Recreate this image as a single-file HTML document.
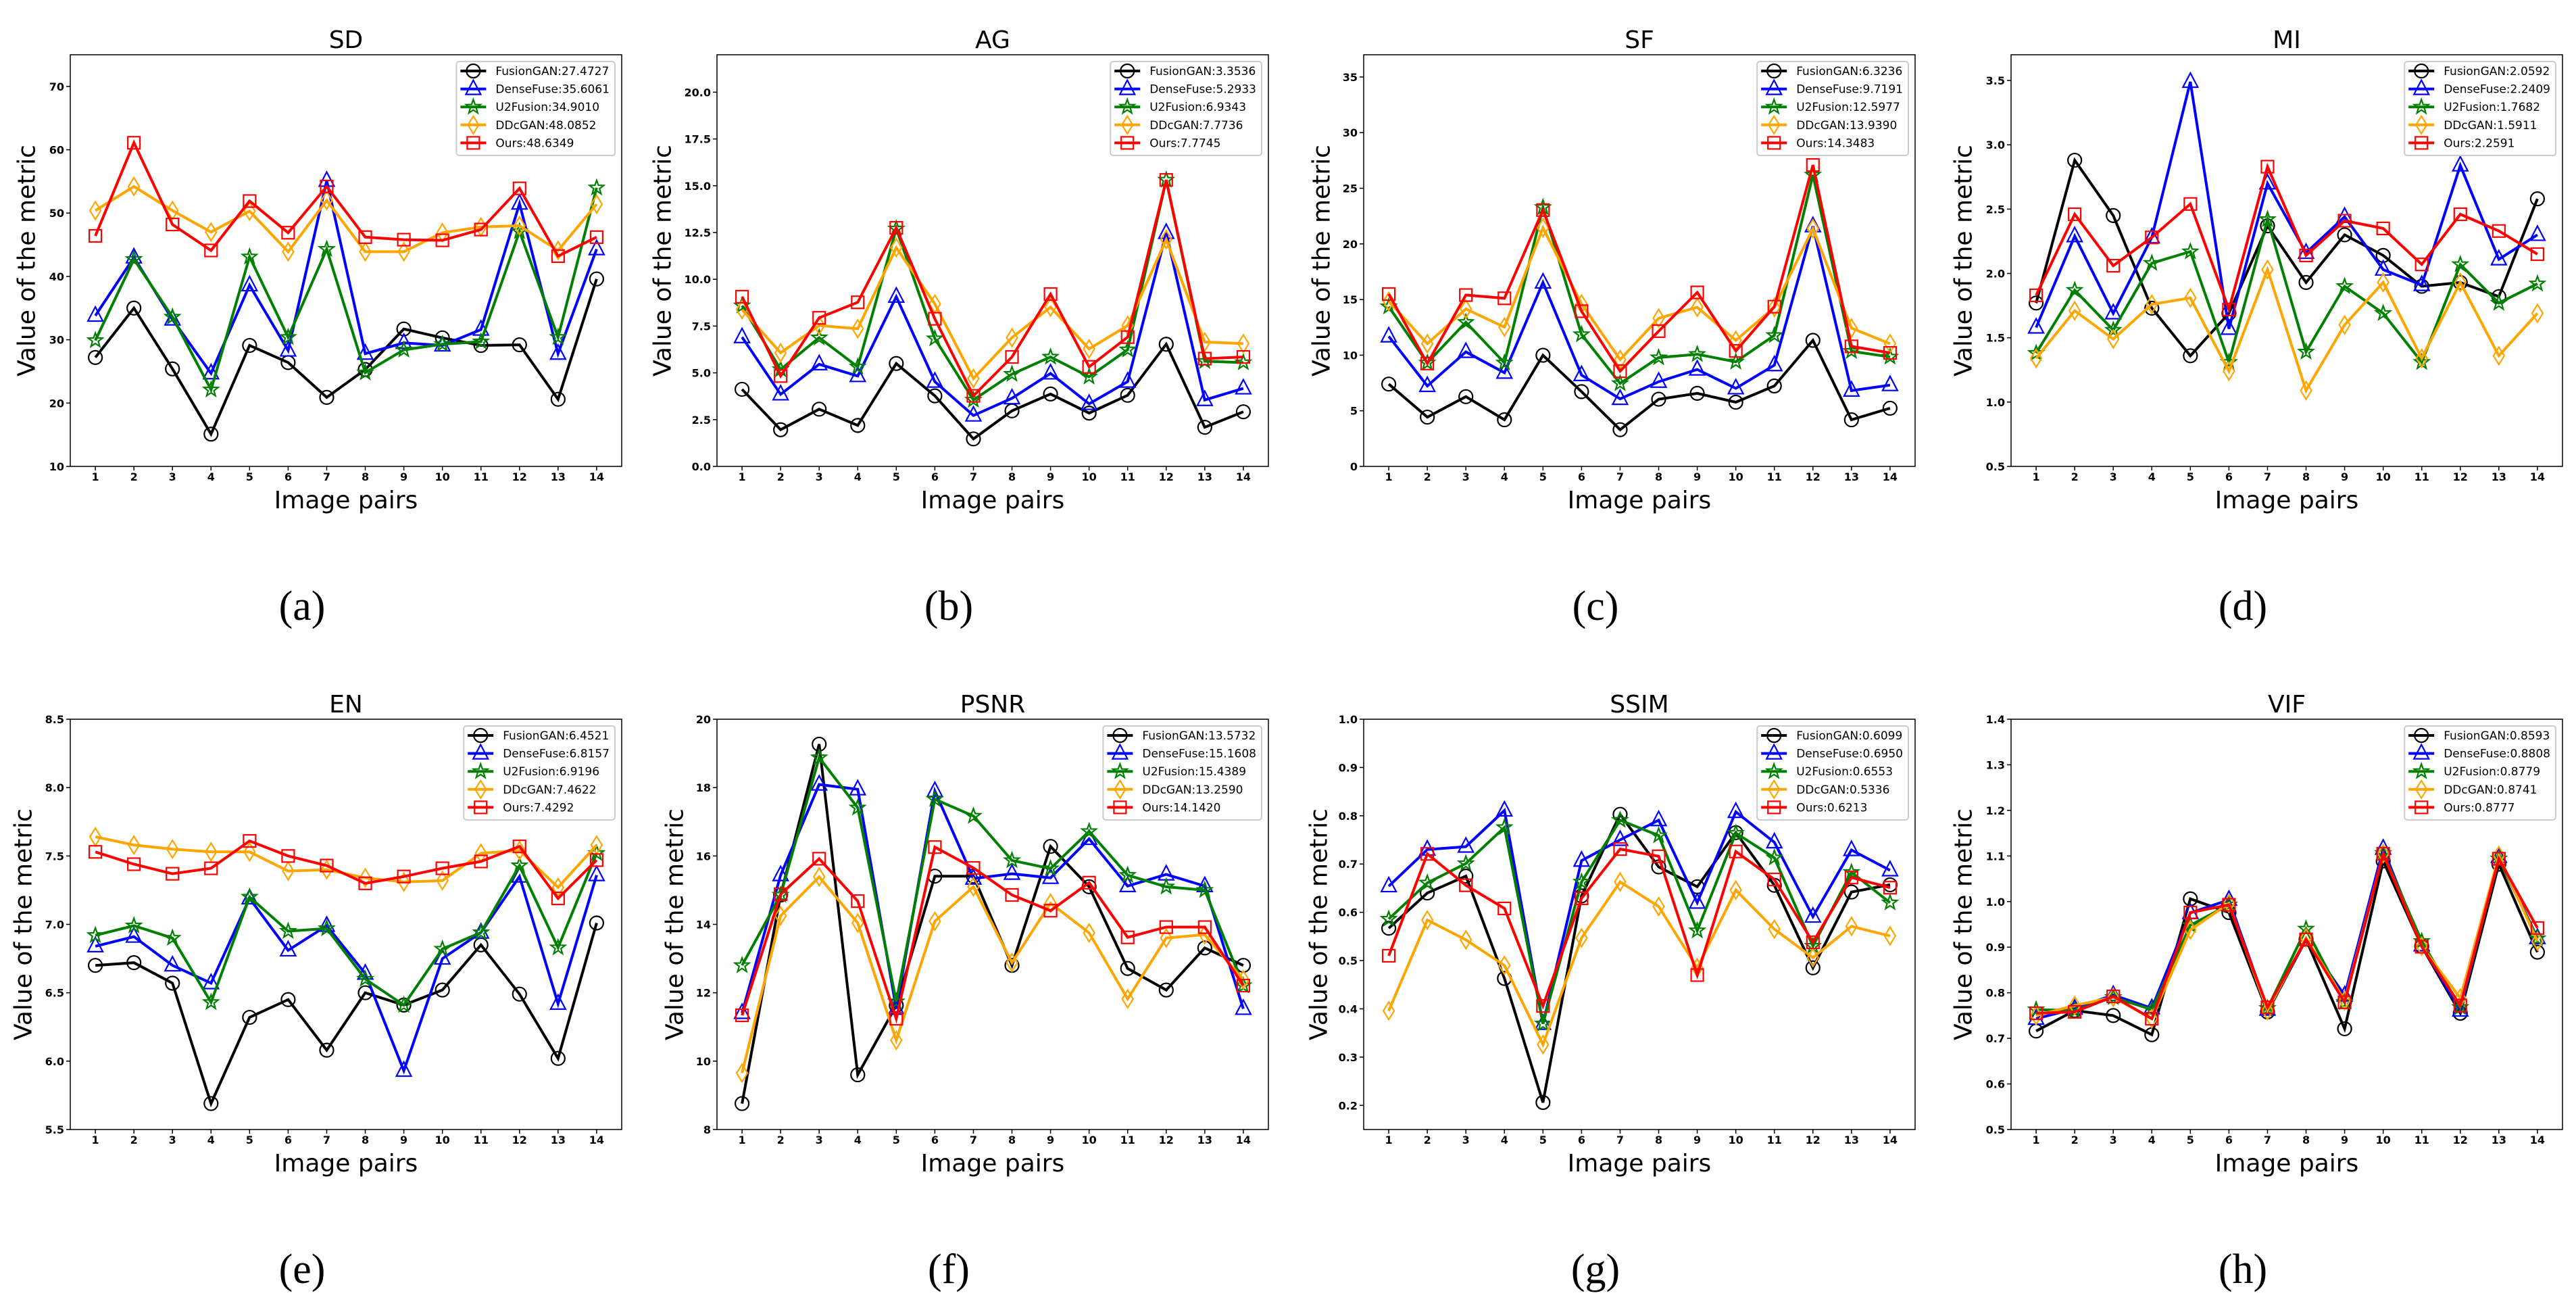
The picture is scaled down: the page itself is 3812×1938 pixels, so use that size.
<!DOCTYPE html>
<html><head><meta charset="utf-8"><style>
html,body{margin:0;padding:0;background:#fff;}
svg{display:block;font-family:"DejaVu Sans","Liberation Sans",sans-serif;}
</style></head><body>
<svg id="fig" width="3812" height="1938" viewBox="0 0 3812 1938" xmlns="http://www.w3.org/2000/svg"></svg>
<script>
const pairs = [1,2,3,4,5,6,7,8,9,10,11,12,13,14];
const methods = ["FusionGAN","DenseFuse","U2Fusion","DDcGAN","Ours"];
const panelTitles = ["SD","AG","SF","MI","EN","PSNR","SSIM","VIF"];
const captions = ["(a)","(b)","(c)","(d)","(e)","(f)","(g)","(h)"];
const legendMeans = [
 ["27.4727","35.6061","34.9010","48.0852","48.6349"],
 ["3.3536","5.2933","6.9343","7.7736","7.7745"],
 ["6.3236","9.7191","12.5977","13.9390","14.3483"],
 ["2.0592","2.2409","1.7682","1.5911","2.2591"],
 ["6.4521","6.8157","6.9196","7.4622","7.4292"],
 ["13.5732","15.1608","15.4389","13.2590","14.1420"],
 ["0.6099","0.6950","0.6553","0.5336","0.6213"],
 ["0.8593","0.8808","0.8779","0.8741","0.8777"]
];
const yRanges = [[10,75],[0,22],[0,37],[0.5,3.7],[5.5,8.5],[8,20],[0.15,1.0],[0.5,1.4]];
const yTicks = [
 ["10","20","30","40","50","60","70"],
 ["0.0","2.5","5.0","7.5","10.0","12.5","15.0","17.5","20.0"],
 ["0","5","10","15","20","25","30","35"],
 ["0.5","1.0","1.5","2.0","2.5","3.0","3.5"],
 ["5.5","6.0","6.5","7.0","7.5","8.0","8.5"],
 ["8","10","12","14","16","18","20"],
 ["0.2","0.3","0.4","0.5","0.6","0.7","0.8","0.9","1.0"],
 ["0.5","0.6","0.7","0.8","0.9","1.0","1.1","1.2","1.3","1.4"]
];
// SD
const sdFusionGAN=[27.2,35.0,25.4,15.1,29.1,26.4,20.9,25.3,31.7,30.3,29.1,29.2,20.6,39.6];
const sdDenseFuse=[33.8,43.0,33.2,24.7,38.6,28.3,55.1,27.8,29.5,29.1,31.6,51.5,27.8,44.3];
const sdU2Fusion=[29.9,42.7,33.6,22.1,43.1,30.4,44.3,24.8,28.4,29.3,29.7,47.1,30.4,54.0];
const sdDDcGAN=[50.4,54.2,50.4,47.0,50.3,43.9,52.0,43.9,43.9,46.9,47.8,48.0,44.1,51.4];
const sdOurs=[46.4,61.1,48.2,44.1,51.9,46.9,54.2,46.2,45.8,45.7,47.4,53.9,43.2,46.2];
// AG
const agFusionGAN=[4.12,1.96,3.06,2.19,5.50,3.77,1.47,2.97,3.87,2.85,3.80,6.53,2.09,2.92];
const agDenseFuse=[6.91,3.85,5.46,4.83,9.07,4.53,2.72,3.64,4.97,3.34,4.53,12.48,3.55,4.17];
const agU2Fusion=[8.59,5.18,6.88,5.32,12.70,6.83,3.55,4.93,5.85,4.79,6.24,15.31,5.62,5.55];
const agDDcGAN=[8.38,6.07,7.53,7.36,11.69,8.68,4.70,6.88,8.51,6.28,7.53,12.13,6.65,6.56];
const agOurs=[9.07,4.83,7.94,8.77,12.75,7.89,3.77,5.85,9.21,5.32,6.91,15.31,5.76,5.85];
// SF
const sfFusionGAN=[7.40,4.43,6.27,4.19,9.99,6.72,3.30,6.04,6.57,5.77,7.23,11.33,4.19,5.23];
const sfDenseFuse=[11.69,7.23,10.29,8.42,16.53,8.21,6.07,7.61,8.71,7.02,9.10,21.59,6.81,7.31];
const sfU2Fusion=[14.36,9.31,12.96,9.31,23.28,11.86,7.46,9.78,10.08,9.40,11.78,26.20,10.35,9.84];
const sfDDcGAN=[14.84,11.03,14.15,12.52,21.44,14.60,9.60,13.32,14.30,11.33,14.30,21.38,12.43,11.03];
const sfOurs=[15.49,9.25,15.40,15.11,23.04,13.95,8.56,12.16,15.64,10.38,14.36,27.09,10.79,10.20];
// MI
const miFusionGAN=[1.77,2.88,2.45,1.73,1.36,1.69,2.37,1.93,2.30,2.14,1.90,1.93,1.82,2.58];
const miDenseFuse=[1.58,2.29,1.69,2.28,3.49,1.57,2.70,2.16,2.44,2.03,1.91,2.84,2.11,2.30];
const miU2Fusion=[1.38,1.87,1.56,2.08,2.17,1.31,2.42,1.39,1.90,1.69,1.31,2.07,1.77,1.92];
const miDDcGAN=[1.34,1.71,1.49,1.76,1.81,1.24,2.03,1.09,1.60,1.93,1.34,1.93,1.36,1.69];
const miOurs=[1.83,2.46,2.06,2.28,2.54,1.72,2.83,2.14,2.41,2.35,2.07,2.46,2.33,2.15];
// EN
const enFusionGAN=[6.70,6.72,6.57,5.69,6.32,6.45,6.08,6.50,6.41,6.52,6.85,6.49,6.02,7.01];
const enDenseFuse=[6.84,6.91,6.70,6.57,7.19,6.81,6.99,6.64,5.93,6.75,6.94,7.35,6.42,7.36];
const enU2Fusion=[6.92,6.99,6.90,6.43,7.20,6.95,6.97,6.60,6.41,6.82,6.94,7.43,6.83,7.52];
const enDDcGAN=[7.64,7.58,7.55,7.53,7.53,7.39,7.40,7.34,7.31,7.32,7.52,7.54,7.27,7.58];
const enOurs=[7.53,7.44,7.37,7.41,7.61,7.50,7.43,7.30,7.35,7.41,7.46,7.57,7.19,7.47];
// PSNR
const psFusionGAN=[8.76,14.86,19.27,9.60,11.63,15.41,15.41,12.80,16.28,15.10,12.71,12.08,13.31,12.80];
const psDenseFuse=[11.41,15.44,18.09,17.95,11.53,17.90,15.34,15.48,15.36,16.50,15.12,15.46,15.12,11.53];
const psU2Fusion=[12.80,14.86,18.88,17.41,11.74,17.66,17.17,15.87,15.63,16.72,15.44,15.10,15.00,12.21];
const psDDcGAN=[9.65,14.25,15.39,14.04,10.61,14.09,15.10,12.88,14.62,13.75,11.82,13.60,13.70,12.38];
const psOurs=[11.34,14.88,15.92,14.68,11.24,16.26,15.65,14.86,14.40,15.22,13.62,13.92,13.92,12.21];
// SSIM
const ssFusionGAN=[0.567,0.640,0.675,0.463,0.206,0.634,0.803,0.694,0.653,0.765,0.656,0.485,0.642,0.657];
const ssDenseFuse=[0.654,0.730,0.736,0.811,0.369,0.707,0.750,0.791,0.620,0.808,0.745,0.591,0.729,0.687];
const ssU2Fusion=[0.586,0.661,0.701,0.776,0.369,0.663,0.791,0.759,0.562,0.764,0.713,0.530,0.683,0.620];
const ssDDcGAN=[0.396,0.584,0.543,0.490,0.326,0.547,0.663,0.612,0.485,0.646,0.565,0.506,0.571,0.551];
const ssOurs=[0.510,0.721,0.656,0.608,0.406,0.629,0.731,0.716,0.470,0.726,0.668,0.538,0.672,0.651];
// VIF
const viFusionGAN=[0.716,0.761,0.750,0.708,1.006,0.976,0.758,0.917,0.721,1.089,0.902,0.755,1.082,0.889];
const viDenseFuse=[0.743,0.765,0.795,0.766,0.975,1.004,0.763,0.917,0.794,1.116,0.904,0.761,1.098,0.920];
const viU2Fusion=[0.763,0.761,0.790,0.763,0.948,0.993,0.766,0.940,0.779,1.106,0.913,0.768,1.094,0.919];
const viDDcGAN=[0.750,0.772,0.790,0.743,0.938,0.996,0.761,0.920,0.783,1.105,0.902,0.788,1.101,0.913];
const viOurs=[0.755,0.758,0.792,0.743,0.976,0.993,0.768,0.917,0.779,1.105,0.901,0.772,1.094,0.942];

const seriesByPanel = [
 [sdFusionGAN,sdDenseFuse,sdU2Fusion,sdDDcGAN,sdOurs],
 [agFusionGAN,agDenseFuse,agU2Fusion,agDDcGAN,agOurs],
 [sfFusionGAN,sfDenseFuse,sfU2Fusion,sfDDcGAN,sfOurs],
 [miFusionGAN,miDenseFuse,miU2Fusion,miDDcGAN,miOurs],
 [enFusionGAN,enDenseFuse,enU2Fusion,enDDcGAN,enOurs],
 [psFusionGAN,psDenseFuse,psU2Fusion,psDDcGAN,psOurs],
 [ssFusionGAN,ssDenseFuse,ssU2Fusion,ssDDcGAN,ssOurs],
 [viFusionGAN,viDenseFuse,viU2Fusion,viDDcGAN,viOurs]
];

const NS="http://www.w3.org/2000/svg";
const svg=document.getElementById('fig');
const colors=["#000000","#0000ff","#008000","#ffa500","#ff0000"];
const shapes=["circle","triangle","star","diamond","square"];
const boxLefts=[104,1061,2018,2976];
const ylabOff=[64,80,62,70,69,62,66,70];
function mk(tag,attrs,parent){const e=document.createElementNS(NS,tag);for(const k in attrs)e.setAttribute(k,attrs[k]);(parent||svg).appendChild(e);return e;}
function marker(g,shape,cx,cy,col){
  let e;
  if(shape==="circle"){e=mk('circle',{cx:cx,cy:cy,r:10,fill:'none',stroke:col,'stroke-width':2.2},g);}
  else if(shape==="square"){e=mk('rect',{x:cx-9,y:cy-9,width:18,height:18,fill:'none',stroke:col,'stroke-width':2.2},g);}
  else if(shape==="triangle"){e=mk('polygon',{points:`${cx},${cy-13} ${cx-11},${cy+8} ${cx+11},${cy+8}`,fill:'none',stroke:col,'stroke-width':2.2},g);}
  else if(shape==="diamond"){e=mk('polygon',{points:`${cx},${cy-13} ${cx+8},${cy} ${cx},${cy+13} ${cx-8},${cy}`,fill:'none',stroke:col,'stroke-width':2.2},g);}
  else {let p=[];for(let i=0;i<10;i++){const r=i%2?4.5:11;const a=-Math.PI/2+i*Math.PI/5;p.push((cx+r*Math.cos(a)).toFixed(1)+','+(cy+r*Math.sin(a)).toFixed(1));}
    e=mk('polygon',{points:p.join(' '),fill:'none',stroke:col,'stroke-width':2.2},g);}
  
  
  return e;
}
for(let p=0;p<8;p++){
  const row=Math.floor(p/4), col=p%4;
  const L=boxLefts[col], W=816, T=row?1064:81, H=row?607:609;
  const [y0,y1]=yRanges[p];
  const xs=v=>L+(v-0.35)/(14.3)*W;
  const ys=v=>T+H-(v-y0)/(y1-y0)*H;
  const g=mk('g',{});
  
  
  const t=mk('text',{x:L+W/2,y:T-10,'text-anchor':'middle','font-size':36},g);t.textContent=panelTitles[p];
  
  yTicks[p].forEach(s=>{const v=parseFloat(s),y=ys(v);
    mk('line',{x1:L-6,x2:L,y1:y,y2:y,stroke:'#000','stroke-width':1.5},g);
    const tt=mk('text',{x:L-9,y:y+6,'text-anchor':'end','font-size':16,'font-weight':'bold'},g);tt.textContent=s;
    });
  pairs.forEach(v=>{const x=xs(v);
    mk('line',{x1:x,x2:x,y1:T+H,y2:T+H+6,stroke:'#000','stroke-width':1.5},g);
    const tt=mk('text',{x:x,y:T+H+21,'text-anchor':'middle','font-size':16,'font-weight':'bold'},g);tt.textContent=v;
    });
  const xl=mk('text',{x:L+W/2,y:T+H+62,'text-anchor':'middle','font-size':36},g);xl.textContent='Image pairs';
  
  const cx=L-ylabOff[p], cy=T+H/2;
  const yl=mk('text',{x:cx,y:cy,'text-anchor':'middle','dominant-baseline':'central','font-size':36,transform:`rotate(-90 ${cx} ${cy})`},g);yl.textContent='Value of the metric';
  
  const cap=mk('text',{x:L+W/2-65,y:row?1898:917,'text-anchor':'middle','font-size':62,'font-family':'"Liberation Serif",serif'},g);cap.textContent=captions[p];
  
  seriesByPanel[p].forEach((vals,si)=>{
    const sg=mk('g',{},g);
    
    
    const pts=vals.map((v,i)=>xs(pairs[i]).toFixed(1)+','+ys(v).toFixed(1)).join(' ');
    const pl=mk('polyline',{points:pts,fill:'none',stroke:colors[si],'stroke-width':4,'stroke-linejoin':'miter'},sg);
    
    vals.forEach((v,i)=>marker(sg,shapes[si],xs(pairs[i]),ys(v),colors[si]));
  });
  const fr=mk('rect',{x:L,y:T,width:W,height:H,fill:'none',stroke:'#000','stroke-width':1.5},g);
  
  const lg=mk('g',{},g);
  
  const lr=mk('rect',{x:0,y:0,width:10,height:139,rx:4,fill:'#fff','fill-opacity':0.85,stroke:'#ccc','stroke-width':2},lg);
  const texts=[];
  methods.forEach((m,i)=>{
    const tx=mk('text',{x:0,y:0,'font-size':17},lg);tx.textContent=m+':'+legendMeans[p][i];
    
    texts.push(tx);});
  let maxw=0;texts.forEach(tx=>{maxw=Math.max(maxw,tx.getComputedTextLength());});
  const lw=maxw+66, lx=L+W-10-lw, ly=T+10;
  lr.setAttribute('x',lx);lr.setAttribute('y',ly);lr.setAttribute('width',lw);
  texts.forEach((tx,i)=>{const yy=ly+14+i*26.6;
    tx.setAttribute('x',lx+58);tx.setAttribute('y',yy+6);
    mk('line',{x1:lx+6,x2:lx+44,y1:yy,y2:yy,stroke:colors[i],'stroke-width':4},lg);
    marker(lg,shapes[i],lx+25,yy,colors[i]);});
}
</script>
</body></html>
